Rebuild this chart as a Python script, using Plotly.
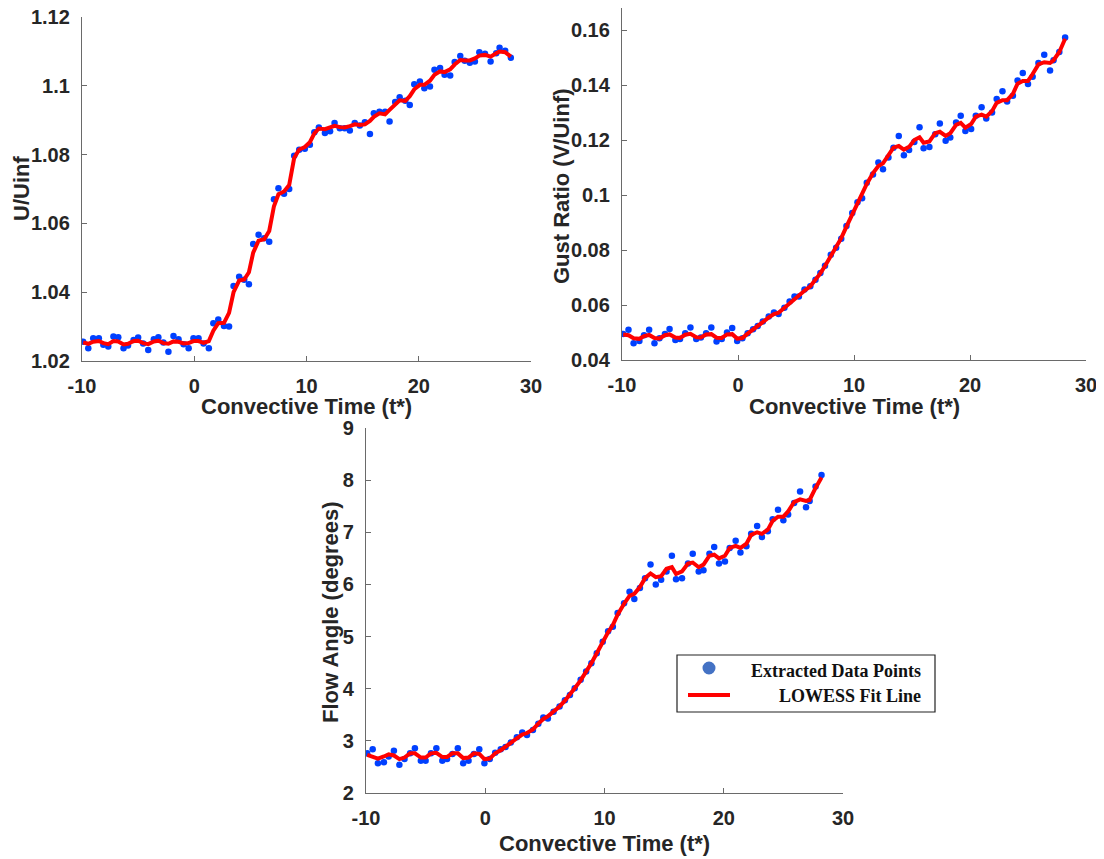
import plotly.graph_objects as go

# ---------------- data ----------------
t_star = [-9.9, -9.44, -9.0, -8.5, -8.1, -7.66, -7.2, -6.77, -6.3, -5.9,
          -5.4, -5.0, -4.55, -4.1, -3.6, -3.2, -2.75, -2.3, -1.85, -1.4,
          -0.95, -0.5, -0.07, 0.38, 0.83, 1.3, 1.7, 2.14, 2.65, 3.1,
          3.5, 4.0, 4.45, 4.87, 5.25, 5.73, 6.23, 6.68, 7.1, 7.5,
          8.0, 8.46, 8.9, 9.35, 9.85, 10.3, 10.7, 11.1, 11.64, 12.1,
          12.5, 12.97, 13.4, 13.86, 14.3, 14.75, 15.2, 15.65, 16.0, 16.5,
          17.0, 17.4, 17.9, 18.3, 18.8, 19.2, 19.6, 20.1, 20.5, 21.0,
          21.4, 21.9, 22.3, 22.8, 23.2, 23.7, 24.1, 24.55, 25.0, 25.4,
          25.9, 26.4, 26.9, 27.2, 27.7, 28.2]

u_points = [1.0256, 1.0237, 1.0266, 1.0266, 1.0247, 1.0242, 1.0271, 1.0269, 1.0237, 1.0245,
            1.0261, 1.0268, 1.0251, 1.0232, 1.0263, 1.0269, 1.0254, 1.0227, 1.0273, 1.0263,
            1.0249, 1.0237, 1.0266, 1.0266, 1.0251, 1.0237, 1.0310, 1.0321, 1.0302, 1.0300,
            1.0418, 1.0445, 1.0436, 1.0423, 1.0540, 1.0567, 1.0557, 1.0547, 1.0670, 1.0702,
            1.0686, 1.0700, 1.0797, 1.0814, 1.0817, 1.0829, 1.0865, 1.0879, 1.0863, 1.0868,
            1.0892, 1.0877, 1.0877, 1.0870, 1.0892, 1.0885, 1.0894, 1.0860, 1.0920, 1.0925,
            1.0925, 1.0896, 1.0953, 1.0967, 1.0957, 1.0944, 1.1005, 1.1013, 1.0993, 1.0998,
            1.1047, 1.1052, 1.1032, 1.1030, 1.1069, 1.1087, 1.1073, 1.1067, 1.1071, 1.1098,
            1.1093, 1.1071, 1.1095, 1.1111, 1.1102, 1.1082]

u_fit = [1.0254, 1.0250, 1.0256, 1.0258, 1.0252, 1.0249, 1.0258, 1.0257, 1.0248, 1.0250,
         1.0258, 1.0259, 1.0252, 1.0249, 1.0257, 1.0259, 1.0252, 1.0250, 1.0257, 1.0256,
         1.0251, 1.0252, 1.0258, 1.0258, 1.0253, 1.0258, 1.0288, 1.0310, 1.0311, 1.0340,
         1.0400, 1.0434, 1.0437, 1.0458, 1.0515, 1.0550, 1.0554, 1.0578, 1.0650, 1.0685,
         1.0693, 1.0712, 1.0790, 1.0815, 1.0822, 1.0836, 1.0862, 1.0876, 1.0874, 1.0879,
         1.0884, 1.0880, 1.0879, 1.0883, 1.0888, 1.0886, 1.0888, 1.0898, 1.0910, 1.0920,
         1.0917, 1.0930, 1.0945, 1.0958, 1.0956, 1.0970, 1.0990, 1.1003, 1.1003, 1.1015,
         1.1032, 1.1042, 1.1040, 1.1048, 1.1062, 1.1075, 1.1074, 1.1074, 1.1080, 1.1088,
         1.1090, 1.1085, 1.1095, 1.1100, 1.1098, 1.1085]

gust_points = [0.0495, 0.0510, 0.0461, 0.0469, 0.0490, 0.0510, 0.0461, 0.0479, 0.0495, 0.0513,
               0.0473, 0.0476, 0.0497, 0.0518, 0.0476, 0.0482, 0.0497, 0.0518, 0.0467, 0.0476,
               0.0500, 0.0516, 0.0469, 0.0479, 0.0497, 0.0512, 0.0524, 0.0540, 0.0558, 0.0573,
               0.0567, 0.0590, 0.0613, 0.0631, 0.0631, 0.0656, 0.0668, 0.0692, 0.0716, 0.0743,
               0.0783, 0.0808, 0.0841, 0.0887, 0.0935, 0.0974, 0.0988, 0.1045, 0.1075, 0.1118,
               0.1094, 0.1136, 0.1172, 0.1215, 0.1145, 0.1164, 0.1193, 0.1246, 0.1170, 0.1175,
               0.1221, 0.1260, 0.1197, 0.1209, 0.1264, 0.1288, 0.1233, 0.1240, 0.1288, 0.1319,
               0.1278, 0.1300, 0.1349, 0.1377, 0.1340, 0.1361, 0.1416, 0.1444, 0.1404, 0.1430,
               0.1480, 0.1510, 0.1453, 0.1490, 0.1520, 0.1573]

gust_fit = [0.0493, 0.0490, 0.0479, 0.0477, 0.0487, 0.0491, 0.0480, 0.0478, 0.0490, 0.0493,
            0.0482, 0.0480, 0.0492, 0.0495, 0.0483, 0.0482, 0.0493, 0.0494, 0.0481, 0.0480,
            0.0493, 0.0494, 0.0478, 0.0480, 0.0496, 0.0510, 0.0523, 0.0538, 0.0555, 0.0567,
            0.0572, 0.0590, 0.0610, 0.0625, 0.0637, 0.0652, 0.0668, 0.0690, 0.0715, 0.0742,
            0.0778, 0.0808, 0.0843, 0.0885, 0.0930, 0.0970, 0.0998, 0.1040, 0.1080, 0.1105,
            0.1115, 0.1142, 0.1172, 0.1178, 0.1165, 0.1175, 0.1200, 0.1210, 0.1190, 0.1195,
            0.1225, 0.1230, 0.1215, 0.1225, 0.1255, 0.1262, 0.1245, 0.1258, 0.1285, 0.1292,
            0.1285, 0.1305, 0.1335, 0.1345, 0.1345, 0.1368, 0.1405, 0.1415, 0.1415, 0.1440,
            0.1475, 0.1483, 0.1480, 0.1490, 0.1520, 0.1568]

angle_points = [2.76, 2.84, 2.57, 2.59, 2.70, 2.81, 2.54, 2.65, 2.76, 2.86,
                2.62, 2.62, 2.76, 2.86, 2.62, 2.65, 2.75, 2.86, 2.57, 2.62,
                2.75, 2.84, 2.57, 2.65, 2.77, 2.84, 2.88, 2.97, 3.07, 3.16,
                3.11, 3.21, 3.33, 3.45, 3.43, 3.56, 3.66, 3.78, 3.88, 4.01,
                4.17, 4.33, 4.49, 4.68, 4.90, 5.10, 5.19, 5.45, 5.64, 5.86,
                5.72, 5.93, 6.12, 6.38, 6.00, 6.09, 6.25, 6.55, 6.10, 6.12,
                6.40, 6.59, 6.25, 6.27, 6.59, 6.72, 6.40, 6.44, 6.70, 6.84,
                6.61, 6.73, 6.97, 7.12, 6.91, 7.02, 7.25, 7.43, 7.23, 7.34,
                7.56, 7.78, 7.48, 7.60, 7.88, 8.10]

angle_fit = [2.73, 2.70, 2.66, 2.70, 2.74, 2.72, 2.65, 2.68, 2.76, 2.76,
             2.68, 2.68, 2.76, 2.77, 2.69, 2.69, 2.76, 2.76, 2.67, 2.68,
             2.76, 2.75, 2.65, 2.66, 2.76, 2.82, 2.88, 2.96, 3.05, 3.12,
             3.15, 3.22, 3.33, 3.42, 3.47, 3.56, 3.66, 3.77, 3.88, 4.01,
             4.16, 4.32, 4.49, 4.68, 4.90, 5.08, 5.22, 5.42, 5.63, 5.78,
             5.82, 5.95, 6.12, 6.21, 6.14, 6.16, 6.30, 6.33, 6.20, 6.25,
             6.40, 6.42, 6.33, 6.38, 6.55, 6.57, 6.50, 6.55, 6.70, 6.74,
             6.70, 6.78, 6.95, 7.00, 6.97, 7.05, 7.22, 7.30, 7.30, 7.40,
             7.58, 7.63, 7.60, 7.62, 7.85, 8.05]

x_ticks = [-10, 0, 10, 20, 30]
x_tick_labels = ["-10", "0", "10", "20", "30"]
u_ticks = [1.02, 1.04, 1.06, 1.08, 1.10, 1.12]
u_tick_labels = ["1.02", "1.04", "1.06", "1.08", "1.1", "1.12"]
gust_ticks = [0.04, 0.06, 0.08, 0.10, 0.12, 0.14, 0.16]
gust_tick_labels = ["0.04", "0.06", "0.08", "0.1", "0.12", "0.14", "0.16"]
angle_ticks = [2, 3, 4, 5, 6, 7, 8, 9]
angle_tick_labels = ["2", "3", "4", "5", "6", "7", "8", "9"]

x_title = "Convective Time (t*)"
y_titles = ["U/Uinf", "Gust Ratio (V/Uinf)", "Flow Angle (degrees)"]
legend_labels = ["Extracted Data Points", "LOWESS Fit Line"]

# ---------------- figure ----------------
W, H = 1104, 859
OFF = 8  # page body margin of the browser
PT_COLOR = "#0040ff"
FIT_COLOR = "#ff0000"
AX_COLOR = "#6a6a6a"
TXT = "#262626"


def px(x):
    return (x - OFF) / W


def py(y):
    return (H - (y - OFF)) / H


def xd(a, b):
    return [px(a), px(b)]


def yd(top, bottom):
    return [py(bottom), py(top)]


fig = go.Figure()

panels = [
    ("x", "y", u_points, u_fit),
    ("x2", "y2", gust_points, gust_fit),
    ("x3", "y3", angle_points, angle_fit),
]
for xa, ya, pts, fit in panels:
    fig.add_trace(go.Scatter(x=t_star, y=pts, mode="markers", xaxis=xa, yaxis=ya,
                             marker=dict(size=6.5, color=PT_COLOR), showlegend=False))
    fig.add_trace(go.Scatter(x=t_star, y=fit, mode="lines", xaxis=xa, yaxis=ya,
                             line=dict(color=FIT_COLOR, width=4), showlegend=False))

SANS = "Liberation Sans, Arial, sans-serif"
tick_font = dict(family=SANS, size=20, color=TXT, weight="bold")
title_font = dict(family=SANS, size=22, color=TXT, weight="bold")


def axis_common():
    return dict(showline=True, linecolor=AX_COLOR, linewidth=1.3, mirror=False,
                ticks="inside", ticklen=5, tickwidth=1.2, tickcolor=AX_COLOR,
                showgrid=False, zeroline=False, tickfont=tick_font,
                automargin=False, ticklabelstandoff=7, ticklabeloverflow="allow")


def xaxis(domain, anchor):
    d = axis_common()
    d.update(domain=domain, anchor=anchor, range=[-10, 30.0001], tickmode="array",
             tickvals=x_ticks, ticktext=x_tick_labels)
    return d


def yaxis(domain, anchor, rng, tv, tt):
    d = axis_common()
    d.update(domain=domain, anchor=anchor, range=rng, tickmode="array",
             tickvals=tv, ticktext=tt)
    return d


fig.update_layout(
    width=W, height=H, autosize=False,
    margin=dict(l=0, r=0, t=0, b=0),
    paper_bgcolor="white", plot_bgcolor="white",
    xaxis=xaxis(xd(82, 531), "y"),
    yaxis=yaxis(yd(17, 361), "x", [1.02, 1.12002], u_ticks, u_tick_labels),
    xaxis2=xaxis(xd(622, 1086), "y2"),
    yaxis2=yaxis(yd(8, 360), "x2", [0.04, 0.168], gust_ticks, gust_tick_labels),
    xaxis3=xaxis(xd(366, 843), "y3"),
    yaxis3=yaxis(yd(428, 793), "x3", [2, 9.0001], angle_ticks, angle_tick_labels),
)

# axis titles placed like the original figure
for cx_, cy_ in [(306, 406), (854, 406), (604, 843)]:
    fig.add_annotation(text=x_title, xref="paper", yref="paper", x=px(cx_), y=py(cy_),
                       xanchor="center", yanchor="middle", showarrow=False, font=title_font)
for label, (cx_, cy_) in zip(y_titles, [(21, 189), (561, 186), (330, 612)]):
    fig.add_annotation(text=label, xref="paper", yref="paper", x=px(cx_), y=py(cy_),
                       xanchor="center", yanchor="middle", textangle=-90,
                       showarrow=False, font=title_font)

# ---------------- legend (drawn manually, right-aligned text like the original) ----------------
lx0, lx1, ly0, ly1 = 677, 935, 655, 712
fig.add_shape(type="rect", xref="paper", yref="paper",
              x0=px(lx0), x1=px(lx1), y0=py(ly1), y1=py(ly0),
              line=dict(color="#222222", width=1.2), fillcolor="white")
cx, cy, r = 709, 668, 6.5
fig.add_shape(type="circle", xref="paper", yref="paper",
              x0=px(cx - r), x1=px(cx + r), y0=py(cy + r), y1=py(cy - r),
              line=dict(color="#4472C4", width=0), fillcolor="#4472C4")
fig.add_shape(type="line", xref="paper", yref="paper",
              x0=px(688), x1=px(730), y0=py(695), y1=py(695),
              line=dict(color=FIT_COLOR, width=4))
leg_font = dict(family="Liberation Serif, Times New Roman, serif", size=18, color="#111111",
                weight="bold")
for label, ypix in zip(legend_labels, [671, 696]):
    fig.add_annotation(text=label, xref="paper", yref="paper", x=px(923), y=py(ypix),
                       xanchor="right", yanchor="middle", showarrow=False, font=leg_font)

fig.write_html("out.html")
